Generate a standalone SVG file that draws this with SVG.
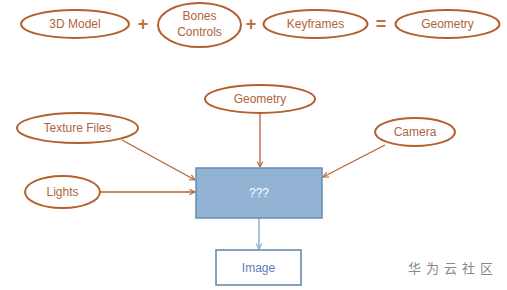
<svg xmlns="http://www.w3.org/2000/svg" width="507" height="290" viewBox="0 0 507 290">
<defs>
<style>
.ell{fill:#fff;stroke:#B5602F;stroke-width:2}
.lbl{font-family:"Liberation Sans",Arial,sans-serif;font-size:12px;fill:#B0643C;text-anchor:middle}
.op{font-family:"Liberation Sans",Arial,sans-serif;font-size:18px;fill:#C0703C;text-anchor:middle;font-weight:bold}
.con{stroke:#B5602F;stroke-width:1.3;fill:none}
.conb{stroke:#7FA3CC;stroke-width:1.3;fill:none}
</style>
<marker id="ah" viewBox="0 0 10 10" refX="9" refY="5" markerWidth="7" markerHeight="7" orient="auto" markerUnits="userSpaceOnUse">
<path d="M1,1 L9,5 L1,9" fill="none" stroke="#B5602F" stroke-width="1.5"/>
</marker>
<marker id="ahb" viewBox="0 0 10 10" refX="9" refY="5" markerWidth="7" markerHeight="7" orient="auto" markerUnits="userSpaceOnUse">
<path d="M1,1 L9,5 L1,9" fill="none" stroke="#7FA3CC" stroke-width="1.5"/>
</marker>
</defs>
<rect width="507" height="290" fill="#fff"/>
<g id="model"><ellipse class="ell" cx="75" cy="24" rx="54" ry="14"/><text class="lbl" x="75" y="28">3D Model</text></g>
<text class="op" x="143" y="30">+</text>
<g id="bones"><ellipse class="ell" cx="199.5" cy="25" rx="41.5" ry="22"/><text class="lbl" x="199.5" y="20">Bones</text><text class="lbl" x="199.5" y="36">Controls</text></g>
<text class="op" x="251" y="30">+</text>
<g id="keyframes"><ellipse class="ell" cx="315.5" cy="24" rx="52" ry="14"/><text class="lbl" x="315.5" y="28">Keyframes</text></g>
<text class="op" x="381" y="30">=</text>
<g id="geometry-top"><ellipse class="ell" cx="447.5" cy="24" rx="52" ry="14"/><text class="lbl" x="447.5" y="28">Geometry</text></g>
<g id="connectors">
<line class="con" x1="260" y1="113" x2="260" y2="167" marker-end="url(#ah)"/>
<line class="con" x1="122" y1="140" x2="195" y2="180" marker-end="url(#ah)"/>
<line class="con" x1="100" y1="192" x2="195" y2="192" marker-end="url(#ah)"/>
<line class="con" x1="385" y1="145" x2="323" y2="177" marker-end="url(#ah)"/>
<line class="conb" x1="259" y1="218" x2="259" y2="249" marker-end="url(#ahb)"/>
</g>
<g id="geometry"><ellipse class="ell" cx="260" cy="99" rx="55" ry="14"/><text class="lbl" x="260" y="103">Geometry</text></g>
<g id="texture"><ellipse class="ell" cx="77.5" cy="128" rx="60.5" ry="15"/><text class="lbl" x="77.5" y="132">Texture Files</text></g>
<g id="camera"><ellipse class="ell" cx="415" cy="132" rx="40" ry="14"/><text class="lbl" x="415" y="136">Camera</text></g>
<g id="lights"><ellipse class="ell" cx="62.5" cy="192" rx="37.5" ry="16"/><text class="lbl" x="62.5" y="196">Lights</text></g>
<g id="unknown"><rect x="196" y="168" width="126" height="50" fill="#92B3D4" stroke="#6A8DB5" stroke-width="1.5"/><text class="lbl" x="259" y="197" style="fill:#fff">???</text></g>
<g id="image"><rect x="216" y="250" width="85" height="35" fill="#fff" stroke="#5F82AC" stroke-width="1.5"/><text class="lbl" x="258.5" y="272" style="fill:#5B80B0">Image</text></g>
<text x="453" y="273" font-family="'Noto Sans CJK SC',sans-serif" font-size="13" fill="#888" text-anchor="middle" letter-spacing="5">华为云社区</text>
</svg>
